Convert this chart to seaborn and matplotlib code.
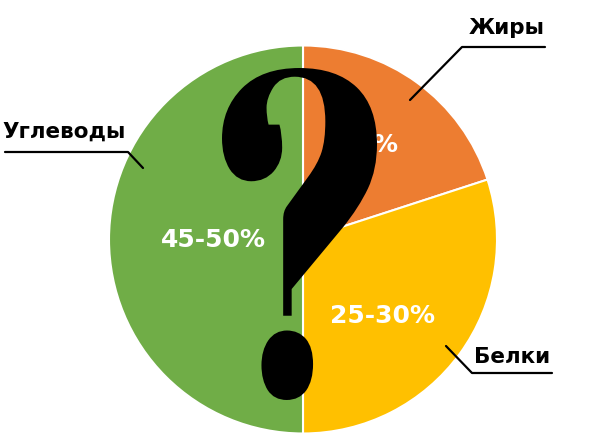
import numpy as np
import matplotlib.pyplot as plt
import seaborn as sns
from matplotlib import font_manager as fm
from matplotlib.textpath import TextPath
from matplotlib.font_manager import FontProperties
from matplotlib.patches import PathPatch
from matplotlib.transforms import Affine2D

sns.set_theme(style="white")
plt.rcParams['font.family'] = ['DejaVu Sans']

# Данные
categorias = ['Жиры', 'Белки', 'Углеводы']
valores = [20, 30, 50]
etiquetas_dentro = ['%', '25-30%', '45-50%']
colores = ['#ED7D31', '#FFC000', '#70AD47']

# Figura 606x436 px, centro del pastel en (303, 239.5) px, radio 194 px
W, H, R = 606, 436, 194
cx, cy = 303, 239.5

def px(x, y):
    # pixeles (origen arriba-izquierda) -> coordenadas de datos
    return (x - cx) / R, (cy - y) / R

fig = plt.figure(figsize=(6.06, 4.36), dpi=100)
ax = fig.add_axes([0, 0, 1, 1])

wedges, _ = ax.pie(valores, colors=colores, startangle=90, counterclock=False,
                   wedgeprops=dict(edgecolor='white', linewidth=1.5))

# Etiquetas dentro de los sectores
pos_dentro = [px(385, 145), px(383, 316), px(213, 240)]
for (x, y), txt in zip(pos_dentro, etiquetas_dentro):
    ax.text(x, y, txt, color='white', fontsize=18, fontweight='bold',
            ha='center', va='center', zorder=3)

# Etiquetas externas con líneas
lineas = {
    'Жиры': [(410, 100), (462, 47), (545, 47)],
    'Белки': [(446, 346), (472, 373), (552, 373)],
    'Углеводы': [(143, 168), (128, 152), (5, 152)],
}
pos_texto = {'Жиры': (507, 28), 'Белки': (512, 357), 'Углеводы': (64, 132)}
for cat in categorias:
    pts = np.array([px(*p) for p in lineas[cat]])
    ax.plot(pts[:, 0], pts[:, 1], color='black', linewidth=1.6, zorder=4)
    tx, ty = px(*pos_texto[cat])
    ax.text(tx, ty, cat, color='black', fontsize=15.5, fontweight='bold',
            ha='center', va='center', zorder=4)

# Signo de interrogación grande (fuente didona con remate de gota)
def buscar_fuente():
    archivos = {f.fname.split('/')[-1]: f.fname for f in fm.fontManager.ttflist}
    for prefijo in ['AbrilFatface', 'DMSerifDisplay-Regular', 'BodoniModa', 'LiberationSerif-Bold']:
        for nombre in sorted(archivos):
            if nombre.startswith(prefijo) and 'Italic' not in nombre:
                return FontProperties(fname=archivos[nombre])
    return FontProperties(family='serif', weight='bold')

tp = TextPath((0, 0), '?', size=1, prop=buscar_fuente())
ext = tp.get_extents()
x0, y1 = px(222, 68)
x1, y0 = px(377, 400)
tr = (Affine2D().translate(-ext.x0, -ext.y0)
      .scale((x1 - x0) / ext.width, (y1 - y0) / ext.height)
      .translate(x0, y0))
ax.add_patch(PathPatch(tr.transform_path(tp), facecolor='black',
                       edgecolor='none', zorder=5))

ax.set_xlim(-cx / R, (W - cx) / R)
ax.set_ylim(-(H - cy) / R, cy / R)
ax.set_axis_off()

plt.savefig('out.png', dpi=100)
plt.close()
